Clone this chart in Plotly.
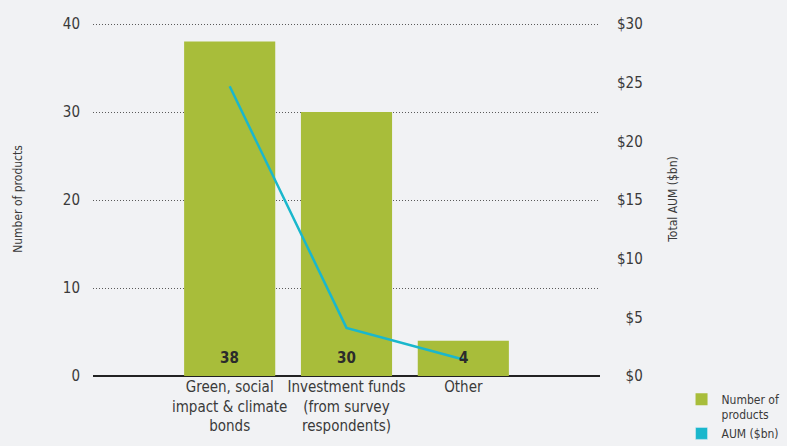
import plotly.graph_objects as go

# Product categories and their values
categories = ["Green, social<br>impact & climate<br>bonds",
              "Investment funds<br>(from survey<br>respondents)",
              "Other"]
num_products = [38, 30, 4]
aum_bn = [24.7, 4.1, 1.4]

left_ticks = [0, 10, 20, 30, 40]
right_ticks = [0, 5, 10, 15, 20, 25, 30]
right_tick_text = ["\u2007$0", "\u2007$5", "$10", "$15", "$20", "$25", "$30"]

GREEN = "#A8BD3A"
CYAN = "#1AB7CC"
BG = "#F1F2F4"
TXT = "#3a3a3a"
FONT = "DejaVu Sans Condensed, Liberation Sans Narrow, Roboto, sans-serif"

# a little headroom above the top tick so its grid line stays visible
Y_MAX = 40.227
Y2_MAX = Y_MAX * 30 / 40

fig = go.Figure()

fig.add_trace(go.Bar(
    x=categories, y=num_products, name="Number of<br>products",
    marker=dict(color=GREEN, line=dict(width=0)), width=0.78,
    yaxis="y", legendrank=1,
))

fig.add_trace(go.Scatter(
    x=categories, y=aum_bn, mode="lines", name="AUM ($bn)",
    line=dict(color=CYAN, width=2.5), yaxis="y2", showlegend=False,
))

# legend swatch for the AUM series, drawn as a square like the bars
fig.add_trace(go.Bar(
    x=categories, y=[None] * len(categories), name="AUM ($bn)",
    marker=dict(color=CYAN), yaxis="y", legendrank=2,
))

annotations = []
for cat, v in zip(categories, num_products):
    annotations.append(dict(
        x=cat, y=0, xref="x", yref="y", text=f"<b>{v}</b>",
        showarrow=False, yanchor="bottom", yshift=7,
        font=dict(family=FONT, size=15, color="#2b2b2b"),
    ))

fig.update_layout(
    width=787, height=446,
    margin=dict(l=93, r=187, t=22, b=70, autoexpand=False),
    paper_bgcolor=BG, plot_bgcolor=BG,
    font=dict(family=FONT, color=TXT, size=14),
    barmode="overlay",
    showlegend=True,
    legend=dict(x=0.866, y=0.137, xref="container", yref="container",
                xanchor="left", yanchor="top", valign="top",
                bgcolor="rgba(0,0,0,0)", font=dict(size=12, color=TXT),
                traceorder="normal", itemwidth=30),
    xaxis=dict(
        range=[-1.17, 3.17], showgrid=False, zeroline=False,
        showline=False, ticks="", tickangle=0, automargin=False,
        tickfont=dict(size=15, color=TXT),
    ),
    yaxis=dict(
        range=[0, Y_MAX], tickvals=left_ticks, showgrid=True,
        gridcolor="#5a5a5a", griddash="1px,2px", gridwidth=1,
        zeroline=True, zerolinecolor="#222222", zerolinewidth=1.5,
        showline=False, ticks="", ticklabelstandoff=12, automargin=False,
        tickfont=dict(size=15, color=TXT),
        title=dict(text="Number of products", standoff=37,
                   font=dict(size=12, color=TXT)),
    ),
    yaxis2=dict(
        range=[0, Y2_MAX], tickvals=right_ticks, ticktext=right_tick_text,
        overlaying="y", side="right", showgrid=False, zeroline=False,
        showline=False, ticks="", ticklabelstandoff=16, automargin=False,
        tickfont=dict(size=15, color=TXT),
        title=dict(text="Total AUM ($bn)", standoff=26,
                   font=dict(size=12, color=TXT)),
    ),
    annotations=annotations,
)

fig.write_html("out.html")
